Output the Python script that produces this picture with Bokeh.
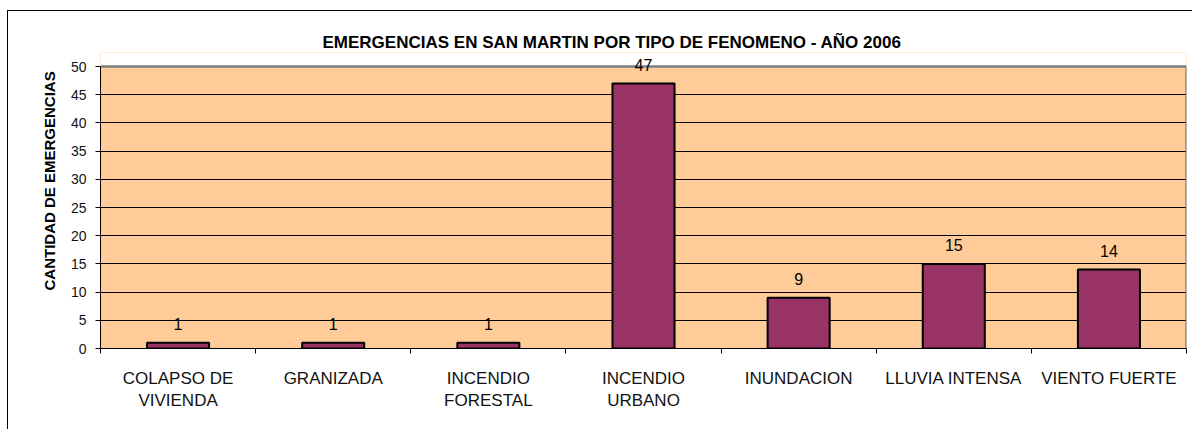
from bokeh.plotting import figure
from bokeh.models import ColumnDataSource, FixedTicker, LabelSet, Range1d, Title
from bokeh.core.properties import value
from bokeh.embed import file_html
from bokeh.resources import INLINE

# ---- data ----
categories = ["COLAPSO DE\nVIVIENDA", "GRANIZADA", "INCENDIO\nFORESTAL", "INCENDIO\nURBANO",
              "INUNDACION", "LLUVIA INTENSA", "VIENTO FUERTE"]
counts = [1, 1, 1, 47, 9, 15, 14]
y_ticks = [0, 5, 10, 15, 20, 25, 30, 35, 40, 45, 50]
y_max = 50
title_text = "EMERGENCIAS EN SAN MARTIN POR TIPO DE FENOMENO - AÑO 2006"
y_label_text = "CANTIDAD DE EMERGENCIAS"

FONT = "Liberation Sans"
n = len(categories)
head = 2.5  # head room above the value axis so the "47" label is not clipped

x_centers = [i + 0.5 for i in range(n)]
x_bounds = [i for i in range(n + 1)]

source = ColumnDataSource(dict(x=x_centers, top=counts, label=[str(c) for c in counts]))

p = figure(width=1185, height=419, output_backend="svg", toolbar_location=None,
           x_range=Range1d(0, n), y_range=Range1d(0, y_max + head),
           min_border_left=92, min_border_right=7, min_border_top=41, min_border_bottom=82)
p.styles = {"box-shadow": "-1px -1px 0 0 #000000", "margin-left": "8px", "margin-top": "11px"}

p.background_fill_color = "#FFCC99"
p.border_fill_color = "#FFFFFF"
p.outline_line_color = None

# title
p.title.text = title_text
p.title.text_font = FONT
p.title.text_font_size = "17px"
p.title.text_font_style = "bold"
p.title.text_color = "#000000"
p.title.align = "left"
p.title.offset = 222
p.title.standoff = 2

# y axis title
p.add_layout(Title(text=y_label_text, align="left", offset=58, standoff=19,
                   text_font=FONT, text_font_size="15px", text_font_style="bold",
                   text_color="#000000"), "left")

# white head room above the plot area, and the grey plot-area border (top + right)
p.quad(left=[0], right=[n], bottom=[y_max], top=[y_max + head],
       fill_color="#FFFFFF", line_color=None)
p.line(x=[0, n, n], y=[y_max, y_max, 0], line_color="#808080", line_width=2.5)

# bars
p.vbar(x="x", top="top", width=0.4, source=source, fill_color="#993366",
       line_color="#000000", line_width=2)

# value labels
labels = LabelSet(x="x", y="top", text="label", source=source, text_align="center",
                  text_baseline="alphabetic", y_offset=13, text_font=value(FONT),
                  text_font_size="16px", text_color="#000000")
p.add_layout(labels)

# x axis
xa = p.xaxis[0]
xa.ticker = FixedTicker(ticks=x_centers, minor_ticks=x_bounds)
xa.major_label_overrides = {x: c for x, c in zip(x_centers, categories)}
xa.major_tick_line_color = None
xa.major_tick_out = 0
xa.major_tick_in = 0
xa.minor_tick_line_color = "#000000"
xa.minor_tick_out = 5
xa.minor_tick_in = 0
xa.axis_line_color = "#000000"
xa.axis_line_width = 1
xa.major_label_text_font = FONT
xa.major_label_text_font_size = "17px"
xa.major_label_text_color = "#111111"
xa.major_label_standoff = 15

# y axis
ya = p.yaxis[0]
ya.ticker = FixedTicker(ticks=y_ticks)
ya.bounds = (0, y_max)
ya.major_tick_out = 5
ya.major_tick_in = 0
ya.minor_tick_line_color = None
ya.major_tick_line_color = "#000000"
ya.axis_line_color = "#000000"
ya.major_label_text_font = FONT
ya.major_label_text_font_size = "14px"
ya.major_label_text_color = "#111111"
ya.major_label_standoff = 9

# grid
p.xgrid.grid_line_color = None
p.ygrid.ticker = FixedTicker(ticks=y_ticks[:-1])
p.ygrid.grid_line_color = "#000000"
p.ygrid.grid_line_width = 1

open("out.html", "w").write(file_html(p, INLINE))
